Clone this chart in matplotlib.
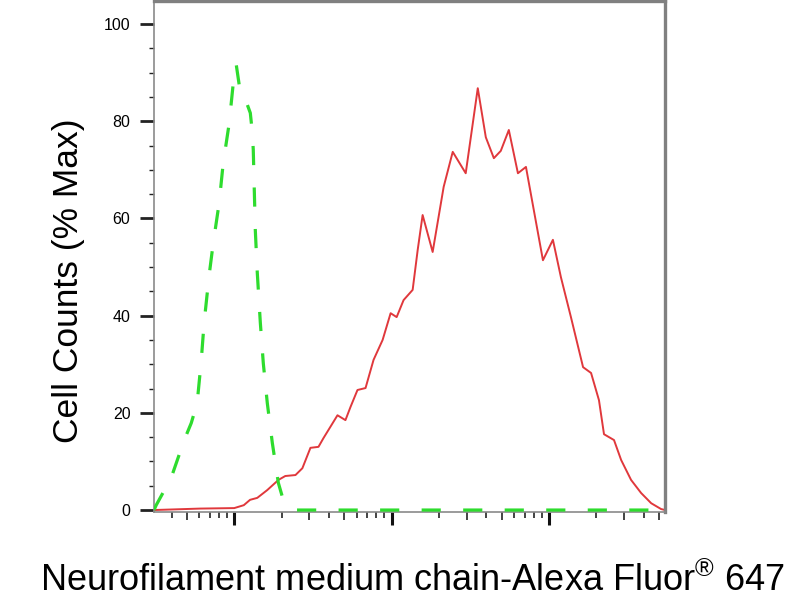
import matplotlib
matplotlib.use("Agg")
import matplotlib.pyplot as plt
from matplotlib.ticker import FixedLocator, NullFormatter

plt.rcParams["font.family"] = ["Liberation Sans", "DejaVu Sans"]
plt.rcParams["mathtext.fontset"] = "custom"
plt.rcParams["mathtext.rm"] = "Liberation Sans"

# isotype control (green dashed) - intensity vs % max
green_x = [30.9, 31.9, 39.7, 48.1, 53.3, 58.1, 61.6, 64.4, 69.3, 73.5, 80.2, 85.1,
           92.9, 98.6, 103.0, 107.6, 119.2, 126.5, 130.2, 132.1, 134.1, 136.1,
           140.1, 146.5, 153.0, 162.2, 174.6, 190.6, 205.2, 227.4, 248.3, 54830]
green_y = [0, 1.0, 6.6, 14.4, 17.9, 22.0, 30.5, 38.7, 48.4, 54.9, 63.2, 71.4,
           79.6, 87.9, 91.6, 87.4, 84.0, 81.7, 77.8, 74.1, 65.8, 57.6,
           48.8, 38.5, 30.2, 22.0, 13.8, 5.6, 2.0, 0.4, 0, 0]

# Neurofilament medium chain stained sample (red)
red_x = [30.9, 60.7, 100, 115, 126, 140, 162, 191, 211, 245, 271, 305, 343, 369,
         408, 453, 509, 548, 607, 683, 768, 877, 986, 1077, 1192, 1361, 1465,
         1575, 1824, 2143, 2447, 2959, 3530, 3971, 4467, 4943, 5561, 6353, 7145,
         8017, 9162, 10600, 11920, 13800, 16480, 18530, 20800, 22390, 25920,
         28770, 33270, 38550, 44670, 51640, 54830]
red_y = [0, 0.3, 0.4, 1.0, 2.1, 2.5, 4.1, 6.2, 7.0, 7.2, 8.6, 12.8, 13.0, 14.8,
         17.1, 19.5, 18.5, 21.2, 24.7, 25.1, 30.9, 35.0, 40.5, 39.7, 43.2, 45.3,
         53.5, 60.7, 53.1, 66.5, 73.7, 69.3, 86.8, 76.7, 72.4, 73.9, 78.2, 69.3,
         70.6, 61.7, 51.4, 55.6, 47.9, 39.7, 29.4, 28.2, 22.6, 15.6, 14.4, 10.3,
         6.2, 3.5, 1.4, 0.2, 0]

y_major = [0, 20, 40, 60, 80, 100]
x_major = [100, 1000, 10000]
x_minor_mult = [2, 3, 4, 5, 6, 7, 8, 9]
x_medium_mult = [3, 5]

fig = plt.figure(figsize=(8, 6), dpi=100)
ax = fig.add_axes([0.1925, 0.1467, 0.639, 0.8513])

ax.plot(red_x, red_y, color="#e0383c", linewidth=1.4, zorder=2)
ax.plot(green_x, green_y, color="#2edc2e", linewidth=2.3,
        linestyle=(0, (6, 7)), zorder=3)

ax.set_xscale("log")
ax.set_xlim(30.9, 54830)
ax.set_ylim(-0.4, 104.7)

# y axis ticks
ax.yaxis.set_major_locator(FixedLocator(y_major))
ax.yaxis.set_minor_locator(FixedLocator([v for v in range(0, 105, 5) if v % 20]))
ax.tick_params(axis="y", which="major", length=10, width=2.0, color="#222222",
               labelsize=11.5, pad=7, direction="out")
ax.tick_params(axis="y", which="minor", length=3.6, width=1.0, color="#222222",
               direction="out")

# x axis ticks (log decades, no labels)
minor_locs = [m * d for d in [10, 100, 1000, 10000] for m in x_minor_mult]
minor_locs = [v for v in minor_locs if 30.9 <= v <= 54830]
ax.xaxis.set_major_locator(FixedLocator(x_major))
ax.xaxis.set_minor_locator(FixedLocator(minor_locs))
ax.xaxis.set_major_formatter(NullFormatter())
ax.xaxis.set_minor_formatter(NullFormatter())
ax.tick_params(axis="x", which="major", length=9.5, width=2.2, color="#111111",
               direction="out")
ax.tick_params(axis="x", which="minor", length=4.3, width=1.1, color="#111111",
               direction="out")
for loc, tick in zip(minor_locs, ax.xaxis.get_minor_ticks(len(minor_locs))):
    mult = round(loc / 10 ** len(str(int(loc))) * 10)
    if mult in x_medium_mult:
        tick.tick1line.set_markersize(6.0)

for side in ["left", "bottom"]:
    ax.spines[side].set_color("#8a8a8a")
    ax.spines[side].set_linewidth(1.2)
for side in ["top", "right"]:
    ax.spines[side].set_color("#808080")
    ax.spines[side].set_linewidth(2.4)

ax.set_ylabel("Cell Counts (% Max)", fontsize=25.5)
ax.yaxis.set_label_coords(-0.135, 0.452)
ax.set_xlabel(r"Neurofilament medium chain-Alexa Fluor$^{®}$ 647", fontsize=26.0)
ax.xaxis.set_label_coords(0.505, -0.100)

plt.savefig("out.png", dpi=100)
